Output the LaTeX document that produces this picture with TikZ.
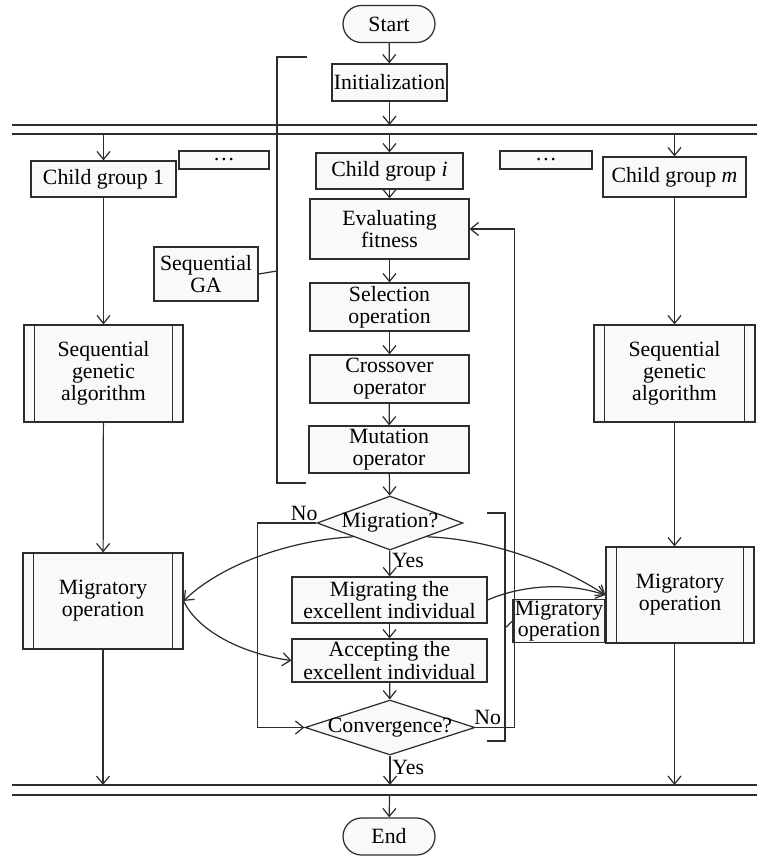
\documentclass[tikz,border=0pt]{standalone}
\usepackage{fontspec}
\setmainfont{Liberation Serif}
\usepackage{tikz}
\usetikzlibrary{shapes.geometric,arrows.meta,calc}
\definecolor{linegray}{RGB}{45,45,45}
\definecolor{boxgray}{RGB}{249,249,249}

\begin{document}
\begin{tikzpicture}[x=0.02cm, y=-0.02cm, font=\fontsize{12.4}{12.6}\selectfont, line width=0.7pt,
  box/.style={draw=linegray, fill=boxgray, align=center, inner sep=1pt},
  term/.style={box, rounded corners=0.37cm, minimum width=1.84cm, minimum height=0.74cm},
  proc/.style={box, path picture={
    \draw[linegray] ([xshift=0.21cm]path picture bounding box.north west) -- ([xshift=0.21cm]path picture bounding box.south west)
      ([xshift=-0.21cm]path picture bounding box.north east) -- ([xshift=-0.21cm]path picture bounding box.south east);}},
  decision/.style={box, diamond, inner sep=0pt},
  arr/.style={draw=linegray, -{Straight Barb[length=1.6mm,width=2.6mm]}},
  ln/.style={draw=linegray},
  lbl/.style={inner sep=1pt}]
  \useasboundingbox (0,0) rectangle (757,856);

  % main column
  \node[term] (start) at (389,24) {Start};
  \node[box, minimum width=2.3cm, minimum height=0.74cm] (init) at (389.5,82.5) {Initialization};
  \node[box, minimum width=2.94cm, minimum height=0.72cm] (childi) at (389.5,171) {Child group \textit{i}};
  \node[box, minimum width=3.18cm, minimum height=1.2cm] (eval) at (389.5,229) {Evaluating\\fitness};
  \node[box, minimum width=3.18cm, minimum height=0.96cm] (sel) at (389.5,307) {Selection\\operation};
  \node[box, minimum width=3.18cm, minimum height=0.96cm] (cross) at (389.5,379) {Crossover\\operator};
  \node[box, minimum width=3.2cm, minimum height=0.94cm] (mut) at (389,449.5) {Mutation\\operator};
  \node[decision, minimum width=2.92cm, minimum height=1.08cm] (migq) at (390,523) {\makebox[0pt]{Migration?}};
  \node[box, minimum width=3.9cm, minimum height=0.92cm] (migr) at (389.5,600) {Migrating the\\excellent individual};
  \node[box, minimum width=3.9cm, minimum height=0.86cm] (acc) at (389.5,660.5) {Accepting the\\excellent individual};
  \node[decision, minimum width=3.4cm, minimum height=1.1cm] (conv) at (390,727.5) {\makebox[0pt]{Convergence?}};
  \node[term] (end) at (389,836.5) {End};

  % side columns
  \node[box, minimum width=2.9cm, minimum height=0.72cm] (child1) at (103.5,179) {Child group 1};
  \node[box, minimum width=1.8cm, minimum height=0.36cm] (dotsl) at (224,160) {\dots};
  \node[box, minimum width=1.84cm, minimum height=0.36cm] (dotsr) at (546,160) {\dots};
  \node[box, minimum width=2.86cm, minimum height=0.8cm] (childm) at (674.5,177) {Child group \textit{m}};
  \node[proc, minimum width=3.18cm, minimum height=1.94cm] (sga1) at (103.5,373.5) {Sequential\\genetic\\algorithm};
  \node[proc, minimum width=3.22cm, minimum height=1.94cm] (sgam) at (674.5,373.5) {Sequential\\genetic\\algorithm};
  \node[proc, minimum width=3.2cm, minimum height=1.92cm] (mig1) at (103,601) {Migratory\\operation};
  \node[proc, minimum width=2.96cm, minimum height=1.92cm] (migm) at (680,595) {Migratory\\operation};
  \node[box, minimum width=2.08cm, minimum height=1.08cm] (seqga) at (206,274) {Sequential\\GA};
  \node[box, minimum width=1.76cm, minimum height=0.84cm, font=\fontsize{12.4}{10}\selectfont] (migs) at (559,621) {Migratory\\operation};

  % split and join bars
  \draw[ln] (12,125) -- (757,125) (12,134) -- (757,134);
  \draw[ln] (12,785) -- (757,785) (12,795) -- (757,795);
  \coordinate (splitin) at (389.5,125);
  \coordinate (splitout) at (389.5,134);
  \coordinate (joinin) at (389.5,785);
  \coordinate (joinout) at (389.5,795);

  \draw[arr] (start) -- (init);
  \draw[arr] (init) -- (splitin);
  \draw[arr] (childi.north |- splitout) -- (childi);
  \draw[arr] (child1.north |- splitout) -- (child1);
  \draw[arr] (childm.north |- splitout) -- (childm);
  \draw[arr] (childi) -- (eval);
  \draw[arr] (eval) -- (sel);
  \draw[arr] (sel) -- (cross);
  \draw[arr] (cross) -- (mut);
  \draw[arr] (mut) -- (migq);
  \draw[arr] (migq) -- node[lbl, right, pos=0.4] {Yes} (migr);
  \draw[arr] (migr) -- (acc);
  \draw[arr] (acc) -- (conv);
  \draw[arr] (conv.south) -- node[lbl, right, pos=0.4] {Yes} (conv.south |- joinin);
  \draw[arr] (joinout) -- (end);

  \draw[arr] (child1) -- (sga1);
  \draw[arr] (sga1) -- (mig1);
  \draw[arr] (mig1.south) -- (mig1.south |- joinin);
  \draw[arr] (childm) -- (sgam);
  \draw[arr] (sgam.south) -- (sgam.south |- migm.north);
  \draw[arr] (sgam.south |- migm.south) -- (sgam.south |- joinin);

  \draw[arr] (migq.west) node[lbl, above left, xshift=2pt] {No} -- ++(-59,0) |- (conv.west);
  \draw[arr] (conv.east) node[lbl, above right, xshift=-2pt] {No} -- ++(39,0) |- (eval.east);

  \draw[arr] (migq.south west) .. controls (290,540) and (220,565) .. (mig1.east);
  \draw[arr] (mig1.east) .. controls (200,635) and (250,655) .. (acc.west);
  \draw[arr] (migq.south east) .. controls (470,538) and (540,553) .. (migm.west);
  \draw[arr] (migr.east) .. controls (515,588) and (560,580) .. (migm.west);

  % brackets
  \coordinate (brl) at (277,271);
  \coordinate (brr) at (505,628);
  \draw[ln] (307,57) -- (277,57) -- (277,483) -- (306,483);
  \draw[ln] (seqga.east) -- (brl);
  \draw[ln] (487,513) -- (505,513) -- (505,741) -- (487,741);
  \draw[ln] (brr) -- (migs.west);
\end{tikzpicture}
\end{document}
